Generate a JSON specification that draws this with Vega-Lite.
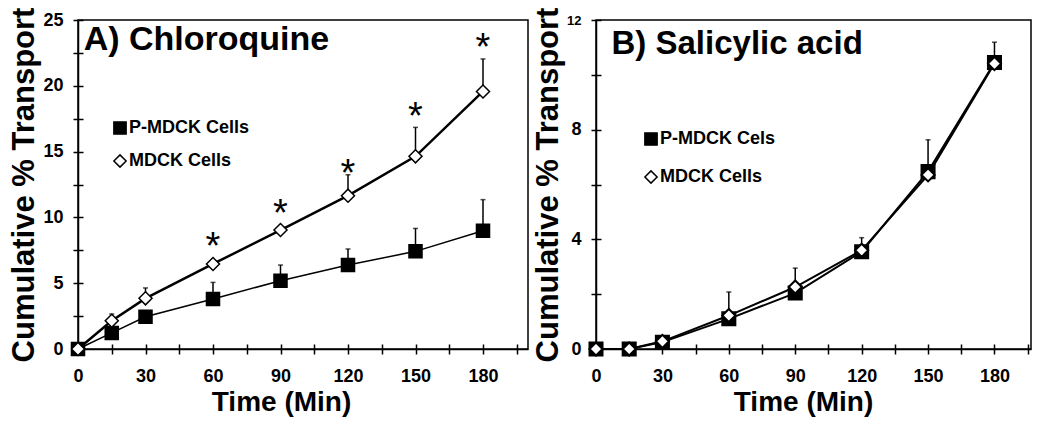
{
  "$schema": "https://vega.github.io/schema/vega-lite/v6.json",
  "background": "white",
  "padding": {"left": 8, "top": 2, "right": 5, "bottom": 5},
  "spacing": 2,
  "config": {
    "font": "Liberation Sans",
    "view": {"stroke": "black", "strokeWidth": 1.5},
    "axis": {
      "domainColor": "black", "domainWidth": 1.5, "tickColor": "black", "tickWidth": 1.5,
      "labelColor": "black", "labelFont": "Liberation Sans", "labelFontWeight": "bold", "labelFontSize": 18,
      "titleColor": "black", "titleFont": "Liberation Sans", "titleFontWeight": "bold", "grid": false
    },
    "legend": {
      "labelFont": "Liberation Sans", "labelFontWeight": "bold", "labelFontSize": 18, "labelColor": "black"
    }
  },
  "datasets": {
    "a": [
      {"time": 0, "series": "P-MDCK Cells", "value": 0, "upper": 0},
      {"time": 15, "series": "P-MDCK Cells", "value": 1.22, "upper": 1.22},
      {"time": 30, "series": "P-MDCK Cells", "value": 2.45, "upper": 2.45},
      {"time": 60, "series": "P-MDCK Cells", "value": 3.8, "upper": 5.06},
      {"time": 90, "series": "P-MDCK Cells", "value": 5.19, "upper": 6.38},
      {"time": 120, "series": "P-MDCK Cells", "value": 6.38, "upper": 7.6},
      {"time": 150, "series": "P-MDCK Cells", "value": 7.42, "upper": 9.16},
      {"time": 180, "series": "P-MDCK Cells", "value": 8.99, "upper": 11.35},
      {"time": 0, "series": "MDCK Cells", "value": 0, "upper": 0},
      {"time": 15, "series": "MDCK Cells", "value": 2.15, "upper": 2.66},
      {"time": 30, "series": "MDCK Cells", "value": 3.85, "upper": 4.64},
      {"time": 60, "series": "MDCK Cells", "value": 6.46, "upper": 6.46},
      {"time": 90, "series": "MDCK Cells", "value": 9.04, "upper": 9.04},
      {"time": 120, "series": "MDCK Cells", "value": 11.65, "upper": 13.24},
      {"time": 150, "series": "MDCK Cells", "value": 14.64, "upper": 16.84},
      {"time": 180, "series": "MDCK Cells", "value": 19.57, "upper": 22.04}
    ],
    "starsA": [
      {"time": 60, "y": 8.53},
      {"time": 90, "y": 11.04},
      {"time": 120, "y": 14.08},
      {"time": 150, "y": 18.41},
      {"time": 180, "y": 23.66}
    ],
    "b": [
      {"time": 0, "series": "P-MDCK Cels", "value": 0, "upper": 0},
      {"time": 15, "series": "P-MDCK Cels", "value": 0, "upper": 0},
      {"time": 30, "series": "P-MDCK Cels", "value": 0.25, "upper": 0.25},
      {"time": 60, "series": "P-MDCK Cels", "value": 1.1, "upper": 1.1},
      {"time": 90, "series": "P-MDCK Cels", "value": 2.04, "upper": 2.04},
      {"time": 120, "series": "P-MDCK Cels", "value": 3.55, "upper": 3.55},
      {"time": 150, "series": "P-MDCK Cels", "value": 6.47, "upper": 6.47},
      {"time": 180, "series": "P-MDCK Cels", "value": 10.45, "upper": 10.45},
      {"time": 0, "series": "MDCK Cells", "value": 0, "upper": 0},
      {"time": 15, "series": "MDCK Cells", "value": 0, "upper": 0},
      {"time": 30, "series": "MDCK Cells", "value": 0.28, "upper": 0.28},
      {"time": 60, "series": "MDCK Cells", "value": 1.22, "upper": 2.08},
      {"time": 90, "series": "MDCK Cells", "value": 2.26, "upper": 2.95},
      {"time": 120, "series": "MDCK Cells", "value": 3.6, "upper": 4.06},
      {"time": 150, "series": "MDCK Cells", "value": 6.35, "upper": 7.63},
      {"time": 180, "series": "MDCK Cells", "value": 10.41, "upper": 11.19}
    ]
  },
  "hconcat": [
    {
      "width": 450, "height": 329,
      "data": {"name": "a"},
      "resolve": {"axis": {"x": "independent", "y": "independent"}},
      "layer": [
        {
          "transform": [{"filter": "datum.series == 'MDCK Cells'"}],
          "mark": {"type": "line", "color": "black", "strokeWidth": 2.5},
          "encoding": {
            "x": {"field": "time", "type": "quantitative", "scale": {"domain": [0, 200], "nice": false},
              "axis": {"orient": "bottom", "values": [0,15,30,45,60,75,90,105,120,135,150,165,180,195],
                "labelExpr": "datum.value % 30 == 0 ? datum.label : ''", "tickSize": 5, "labelPadding": 13,
                "title": "Time (Min)", "titleFontSize": 28, "titlePadding": 3, "titleX": 203, "labelFlush": false}},
            "y": {"field": "value", "type": "quantitative", "scale": {"domain": [0, 25], "nice": false},
              "axis": {"orient": "left", "values": [0,2.5,5,7.5,10,12.5,15,17.5,20,22.5,25],
                "labelExpr": "datum.value % 5 == 0 ? datum.label : ''", "tickSize": 5, "labelPadding": 10,
                "title": "Cumulative %  Transport", "titleFontSize": 31, "titlePadding": 2, "labelFlush": false}}
          }
        },
        {
          "transform": [{"filter": "datum.series == 'P-MDCK Cells'"}],
          "mark": {"type": "line", "color": "black", "strokeWidth": 1.5},
          "encoding": {
            "x": {"field": "time", "type": "quantitative", "axis": null},
            "y": {"field": "value", "type": "quantitative", "axis": null}
          }
        },
        {
          "mark": {"type": "rule", "color": "black", "strokeWidth": 1.5},
          "encoding": {
            "x": {"field": "time", "type": "quantitative",
              "axis": {"orient": "bottom", "values": [0,15,30,45,60,75,90,105,120,135,150,165,180,195],
                "labels": false, "domain": false, "title": null, "tickSize": 5, "offset": -5}},
            "y": {"field": "value", "type": "quantitative",
              "axis": {"orient": "left", "values": [0,2.5,5,7.5,10,12.5,15,17.5,20,22.5,25],
                "labels": false, "domain": false, "title": null, "tickSize": 5, "offset": -5}},
            "y2": {"field": "upper"}
          }
        },
        {
          "mark": {"type": "tick", "orient": "horizontal", "color": "black", "thickness": 1.5, "size": 5},
          "encoding": {
            "x": {"field": "time", "type": "quantitative", "axis": null},
            "y": {"field": "upper", "type": "quantitative", "axis": null}
          }
        },
        {
          "mark": {"type": "point", "filled": true, "stroke": "black", "strokeWidth": 1.5, "opacity": 1, "size": 170},
          "encoding": {
            "x": {"field": "time", "type": "quantitative", "axis": null},
            "y": {"field": "value", "type": "quantitative", "axis": null},
            "shape": {"field": "series", "type": "nominal", "scale": {"domain": ["P-MDCK Cells", "MDCK Cells"], "range": ["square", "diamond"]},
              "legend": {"orient": "none", "legendX": 33, "legendY": 99, "title": null, "rowPadding": 13, "labelOffset": 0, "symbolSize": 150,
                "encode": {"symbols": {"update": {"stroke": {"value": "black"}, "strokeWidth": {"value": 1.5}}}}}},
            "fill": {"field": "series", "type": "nominal", "scale": {"domain": ["P-MDCK Cells", "MDCK Cells"], "range": ["black", "white"]},
              "legend": {"orient": "none", "legendX": 33, "legendY": 99, "title": null, "rowPadding": 13, "labelOffset": 0, "symbolSize": 150,
                "encode": {"symbols": {"update": {"stroke": {"value": "black"}, "strokeWidth": {"value": 1.5}}}}}}
          }
        },
        {
          "data": {"name": "starsA"},
          "mark": {"type": "text", "text": "*", "fontSize": 38, "dy": 22, "baseline": "alphabetic", "color": "black"},
          "encoding": {
            "x": {"field": "time", "type": "quantitative", "axis": null},
            "y": {"field": "y", "type": "quantitative", "axis": null}
          }
        },
        {
          "data": {"values": [{"label": "A) Chloroquine"}]},
          "mark": {"type": "text", "fontSize": 34, "fontWeight": "bold", "align": "left", "baseline": "alphabetic", "color": "black"},
          "encoding": {
            "x": {"datum": 2.5, "type": "quantitative", "axis": null},
            "y": {"datum": 22.7, "type": "quantitative", "axis": null},
            "text": {"field": "label"}
          }
        }
      ]
    },
    {
      "width": 435, "height": 329,
      "data": {"name": "b"},
      "resolve": {"axis": {"x": "independent", "y": "independent"}},
      "layer": [
        {
          "mark": {"type": "line", "color": "black", "strokeWidth": 2},
          "encoding": {
            "x": {"field": "time", "type": "quantitative", "scale": {"domain": [0, 196.5], "nice": false},
              "axis": {"orient": "bottom", "values": [0,15,30,45,60,75,90,105,120,135,150,165,180,195],
                "labelExpr": "datum.value % 30 == 0 ? datum.label : ''", "tickSize": 5, "labelPadding": 13,
                "title": "Time (Min)", "titleFontSize": 28, "titlePadding": 3, "titleX": 207, "labelFlush": false}},
            "y": {"field": "value", "type": "quantitative", "scale": {"domain": [0, 12], "nice": false},
              "axis": {"orient": "left", "values": [0,2,4,6,8,10,12],
                "labelExpr": "datum.value % 4 == 0 ? datum.label : ''", "tickSize": 5, "labelPadding": 10,
                "labelFontSize": {"condition": {"test": "datum.value == 12", "value": 13}, "value": 18},
                "title": "Cumulative %  Transport", "titleFontSize": 31, "titlePadding": 2, "labelFlush": false}},
            "detail": {"field": "series"}
          }
        },
        {
          "mark": {"type": "rule", "color": "black", "strokeWidth": 1.5},
          "encoding": {
            "x": {"field": "time", "type": "quantitative",
              "axis": {"orient": "bottom", "values": [0,15,30,45,60,75,90,105,120,135,150,165,180,195],
                "labels": false, "domain": false, "title": null, "tickSize": 5, "offset": -5}},
            "y": {"field": "value", "type": "quantitative",
              "axis": {"orient": "left", "values": [0,2,4,6,8,10,12],
                "labels": false, "domain": false, "title": null, "tickSize": 5, "offset": -5}},
            "y2": {"field": "upper"}
          }
        },
        {
          "mark": {"type": "tick", "orient": "horizontal", "color": "black", "thickness": 1.5, "size": 5},
          "encoding": {
            "x": {"field": "time", "type": "quantitative", "axis": null},
            "y": {"field": "upper", "type": "quantitative", "axis": null}
          }
        },
        {
          "mark": {"type": "point", "filled": true, "stroke": "black", "strokeWidth": 2, "opacity": 1, "size": 170},
          "encoding": {
            "x": {"field": "time", "type": "quantitative", "axis": null},
            "y": {"field": "value", "type": "quantitative", "axis": null},
            "shape": {"field": "series", "type": "nominal", "scale": {"domain": ["P-MDCK Cels", "MDCK Cells"], "range": ["square", "diamond"]},
              "legend": {"orient": "none", "legendX": 46, "legendY": 110, "title": null, "rowPadding": 18, "labelOffset": 0, "symbolSize": 150,
                "encode": {"symbols": {"update": {"stroke": {"value": "black"}, "strokeWidth": {"value": 1.5}}}}}},
            "fill": {"field": "series", "type": "nominal", "scale": {"domain": ["P-MDCK Cels", "MDCK Cells"], "range": ["black", "white"]},
              "legend": {"orient": "none", "legendX": 46, "legendY": 110, "title": null, "rowPadding": 18, "labelOffset": 0, "symbolSize": 150,
                "encode": {"symbols": {"update": {"stroke": {"value": "black"}, "strokeWidth": {"value": 1.5}}}}}}
          }
        },
        {
          "data": {"values": [{"label": "B) Salicylic acid"}]},
          "mark": {"type": "text", "fontSize": 33, "fontWeight": "bold", "align": "left", "baseline": "alphabetic", "color": "black"},
          "encoding": {
            "x": {"datum": 7, "type": "quantitative", "axis": null},
            "y": {"datum": 10.77, "type": "quantitative", "axis": null},
            "text": {"field": "label"}
          }
        }
      ]
    }
  ],
  "resolve": {"scale": {"shape": "independent", "fill": "independent"}, "legend": {"shape": "independent", "fill": "independent"}}
}
